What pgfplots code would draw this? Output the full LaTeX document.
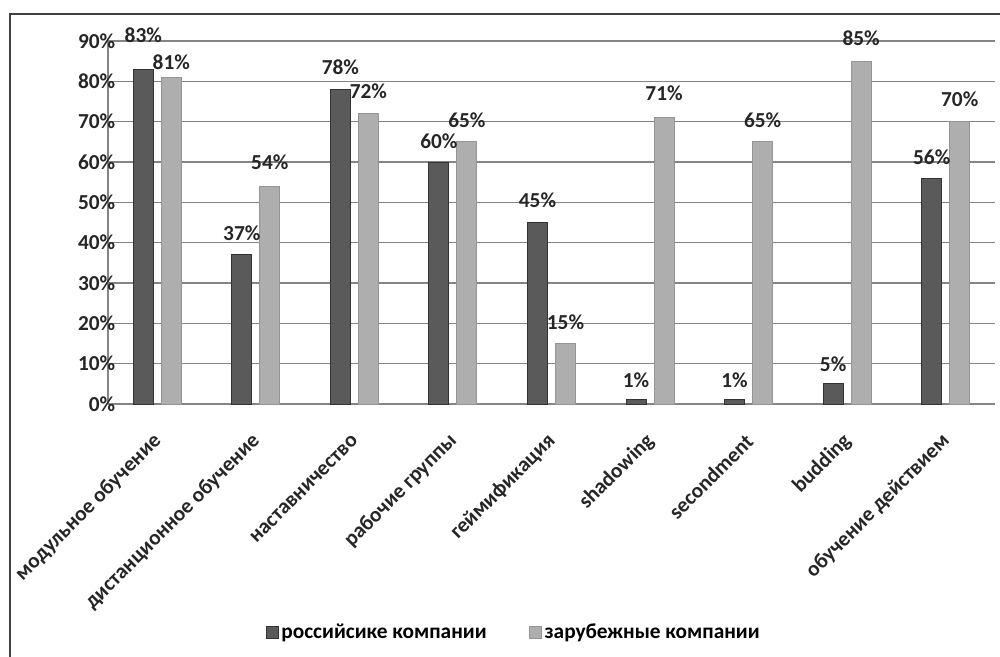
\documentclass[border=0pt]{standalone}
\usepackage{fontspec}
\setmainfont{Carlito}
\usepackage{pgfplots}
\pgfplotsset{compat=1.18}
\usepackage{pgfplotstable}
\definecolor{darkbar}{HTML}{5A5A5A}
\definecolor{lightbar}{HTML}{AEAEAE}
\definecolor{gridc}{HTML}{858585}
\definecolor{framec}{HTML}{404040}

\pgfplotstableread{
x d ddy l ldy
0 83 25.5 81 11.25
1 37 16.5 54 18
2 78 16.5 72 16.5
3 60 15.75 65 16.5
4 45 16.5 15 15.75
5 1 15 71 18
6 1 15 65 16.5
7 5 15 85 17.25
8 56 15.75 70 16.5
}\data

\begin{document}
\begin{tikzpicture}
\useasboundingbox (-81pt,-189.75pt) rectangle (669pt,303pt);
\draw[line width=1.5pt, color=framec] (-73.5pt,-200pt) -- (-73.5pt,292.5pt) -- (680pt,292.5pt);
\begin{axis}[
  at={(0,0)}, anchor=south west,
  scale only axis,
  width=665.25pt, height=272.25pt,
  xmin=-0.5, xmax=8.5, ymin=0, ymax=90,
  ybar=6pt, bar width=15pt,
  xtick={0,...,8},
  xticklabels={модульное обучение, дистанционное обучение, наставничество, рабочие группы, геймификация, shadowing, secondment, budding, обучение действием},
  ytick={0,10,...,90},
  yticklabel={\pgfmathprintnumber{\tick}\%},
  /pgf/number format/assume math mode=true,
  ymajorgrids,
  grid style={gridc, line width=1pt},
  axis x line*=bottom, axis y line*=left,
  axis line style={gridc, line width=1pt},
  major tick length=0pt,
  tick label style={font=\fontsize{16}{19}\selectfont\bfseries, text=black!85},
  yticklabel style={xshift=9pt},
  xticklabel style={xshift=3pt, yshift=-23pt, rotate=45, anchor=east},
  nodes near coords={\pgfmathprintnumber{\pgfplotspointmeta}\%},
  visualization depends on={\thisrow{ddy} \as \dy},
  every node near coord/.append style={font=\fontsize{16}{19}\selectfont\bfseries, text=black!85, anchor=center, yshift=\dy pt},
  legend style={at={(0.458,0)}, anchor=center, yshift=-171pt, draw=none, fill=none,
    font=\fontsize{16}{19}\selectfont\bfseries, legend columns=2,
    /tikz/every even column/.append style={column sep=30pt}},
]
\addplot[fill=darkbar, draw=black!80, line width=0.75pt,
  legend image code/.code={\draw[fill=darkbar, draw=black!80, line width=0.5pt] (0pt,-4.5pt) rectangle (9pt,4.5pt);}]
  table[x=x, y=d] {\data};
\addplot[fill=lightbar, draw=lightbar!85!black, line width=0.75pt,
  visualization depends on={\thisrow{ldy} \as \dy},
  legend image code/.code={\draw[fill=lightbar, draw=lightbar!85!black, line width=0.5pt] (0pt,-4.5pt) rectangle (9pt,4.5pt);}]
  table[x=x, y=l] {\data};
\legend{российсике компании, зарубежные компании}
\end{axis}
\end{tikzpicture}
\end{document}
